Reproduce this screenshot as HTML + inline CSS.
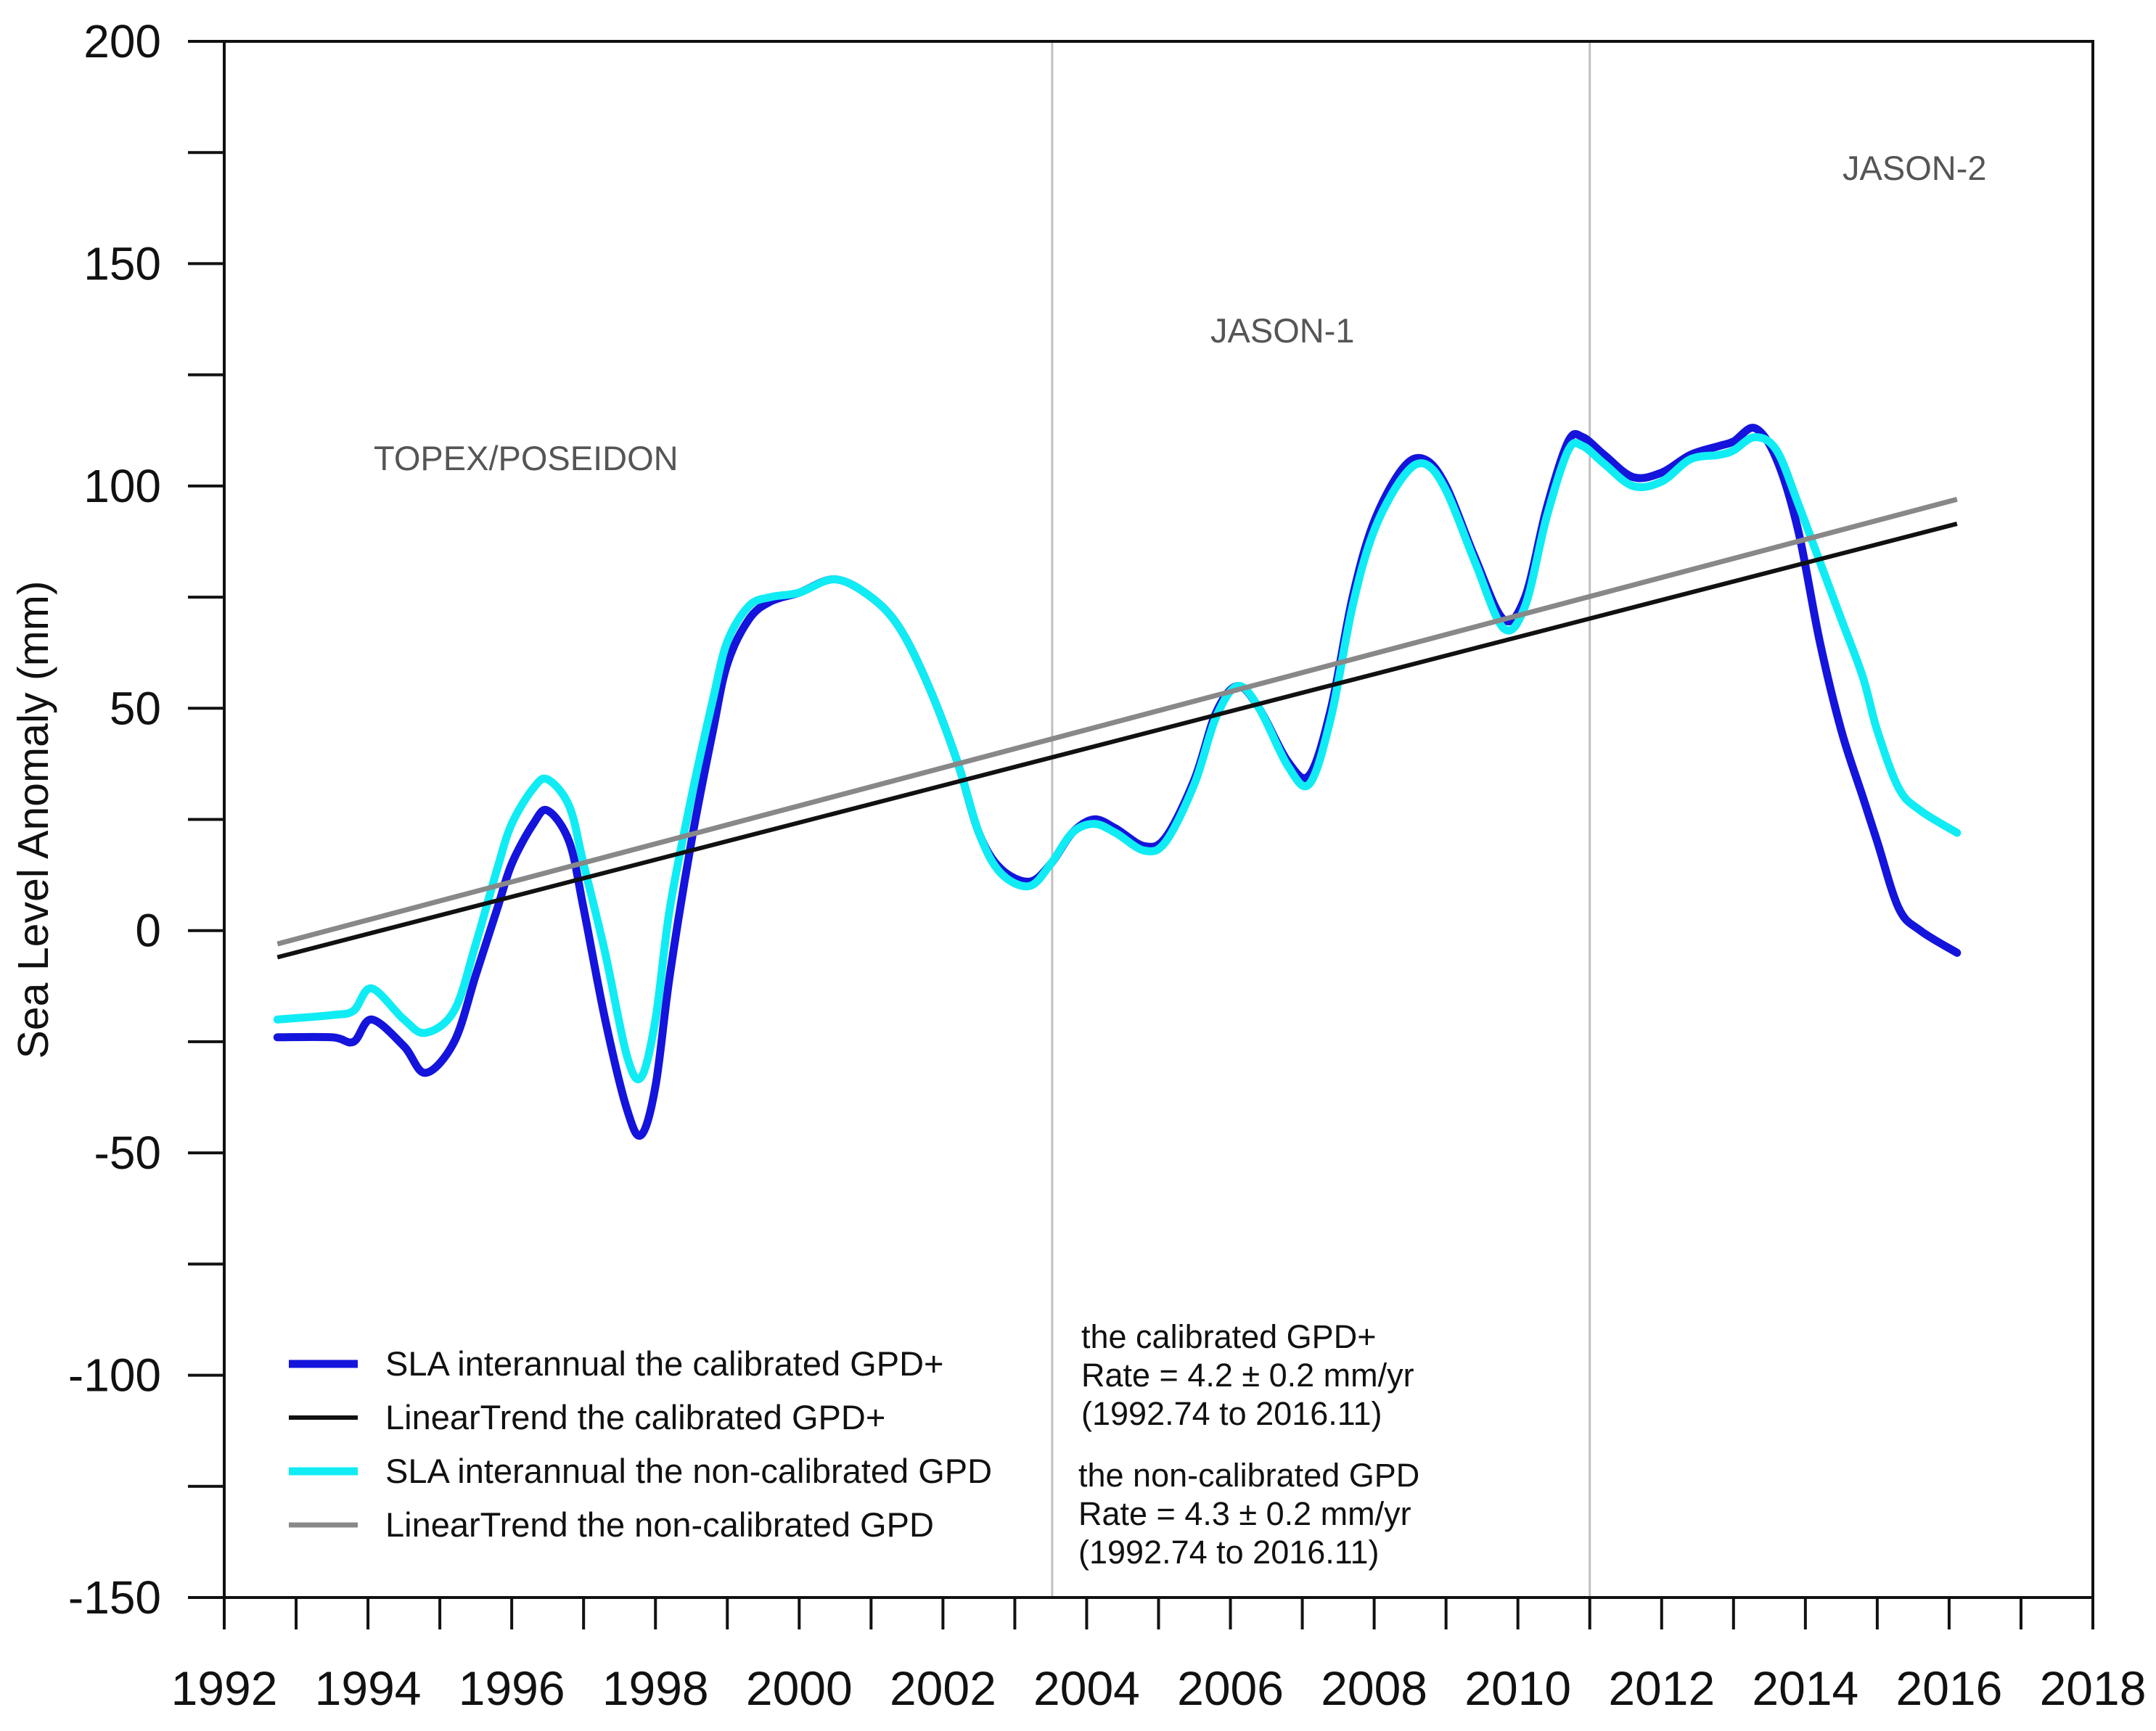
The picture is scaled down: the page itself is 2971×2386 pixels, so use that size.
<!DOCTYPE html>
<html><head><meta charset="utf-8"><style>
body{margin:0;background:#fff}
svg text{font-family:"Liberation Sans",Arial,sans-serif}
</style></head><body>
<svg id="chart" width="2971" height="2381" xmlns="http://www.w3.org/2000/svg">
<rect width="2971" height="2381" fill="#fff"/>
<g id="axes"></g>
<g id="marks"></g>
<g id="labels"></g>
</svg>
<script>
const years = [1992.74,1993.5,1993.8,1994.05,1994.5,1994.8,1995.2,1995.5,1995.8,1996.0,1996.3,1996.5,1996.8,1997.0,1997.3,1997.6,1997.8,1998.0,1998.2,1998.5,1998.8,1999.0,1999.3,1999.6,2000.0,2000.5,2001.0,2001.4,2001.8,2002.2,2002.5,2002.8,2003.2,2003.5,2003.8,2004.1,2004.4,2004.8,2005.1,2005.5,2005.8,2006.1,2006.4,2006.8,2007.1,2007.4,2007.7,2008.0,2008.4,2008.7,2009.0,2009.4,2009.8,2010.1,2010.4,2010.7,2010.9,2011.2,2011.6,2012.0,2012.4,2012.8,2013.0,2013.3,2013.6,2013.9,2014.2,2014.5,2014.8,2015.0,2015.3,2015.6,2016.11];
const slaCalibrated = [-24,-24,-25,-20,-26,-32,-25,-10,5,15,24,27,20,5,-20,-40,-46,-35,-10,20,45,60,70,74,76,79,75,68,55,38,22,14,11,15,22,25,23,19,21,34,49,55,50,38,35,50,75,92,104,106,100,84,70,75,95,110,111,107,102,103,107,109,110,113,106,90,65,45,30,20,5,0,-5];
const slaNonCalibrated = [-20,-19,-18,-13,-20,-23,-18,-3,14,24,32,34,28,15,-5,-28,-33,-20,5,30,52,65,73,75,76,79,75,68,55,38,22,13,10,15,22,24,22,18,20,33,48,55,50,37,33,48,73,90,102,105,99,83,68,73,93,108,109,105,100,101,106,107,108,111,108,96,83,70,57,45,32,27,22];
const trendCalibrated = [[1992.74,-6],[2016.11,91.5]];
const trendNonCalibrated = [[1992.74,-3],[2016.11,97]];
const yTicks = [-150,-100,-50,0,50,100,150,200];
const xTickLabels = [1992,1994,1996,1998,2000,2002,2004,2006,2008,2010,2012,2014,2016,2018];
const missionYears = [2003.52,2011.0];

const L=309,R=2884,T=57,B=2202;
const X=v=>L+(v-1992)/(2018-1992)*(R-L);
const Y=v=>B-(v+150)/350*(B-T);
const NS='http://www.w3.org/2000/svg';
function mk(tag,parent,attrs){const e=document.createElementNS(NS,tag);for(const k in attrs)e.setAttribute(k,attrs[k]);parent.appendChild(e);return e;}
const axes=document.getElementById('axes'),marks=document.getElementById('marks'),labels=document.getElementById('labels');

missionYears.forEach(m=>{const e=mk('line',axes,{x1:X(m),x2:X(m),y1:T,y2:B,stroke:'#c0c0c0','stroke-width':3});

});

const frame=mk('rect',axes,{x:L,y:T,width:R-L,height:B-T,fill:'none',stroke:'#111','stroke-width':4});



for(let v=-150;v<=200;v+=25){const t=mk('line',axes,{x1:L-50,x2:L,y1:Y(v),y2:Y(v),stroke:'#111','stroke-width':4});

}
yTicks.forEach(v=>{const t=mk('text',labels,{x:222,y:Y(v)+22,'font-size':64,'text-anchor':'end',fill:'#111'});t.textContent=v;

});
for(let yr=1992;yr<=2018;yr++){const t=mk('line',axes,{x1:X(yr),x2:X(yr),y1:B,y2:B+44,stroke:'#111','stroke-width':4});

}
xTickLabels.forEach(v=>{const t=mk('text',labels,{x:X(v),y:2350,'font-size':66,'text-anchor':'middle',fill:'#111'});t.textContent=v;

});

function smooth(xs,ys){const p=xs.map((x,i)=>[X(x),Y(ys[i])]);let d='M'+p[0][0]+','+p[0][1];
for(let i=0;i<p.length-1;i++){const p0=p[Math.max(0,i-1)],p1=p[i],p2=p[i+1],p3=p[Math.min(p.length-1,i+2)];
d+=' C'+(p1[0]+(p2[0]-p0[0])/6)+','+(p1[1]+(p2[1]-p0[1])/6)+' '+(p2[0]-(p3[0]-p1[0])/6)+','+(p2[1]-(p3[1]-p1[1])/6)+' '+p2[0]+','+p2[1];}
return d;}

const lb=mk('path',marks,{d:smooth(years,slaCalibrated),fill:'none',stroke:'#1414dc','stroke-width':11,'stroke-linejoin':'round','stroke-linecap':'round'});


const lc=mk('path',marks,{d:smooth(years,slaNonCalibrated),fill:'none',stroke:'#10ecf4','stroke-width':11,'stroke-linejoin':'round','stroke-linecap':'round'});


const tg=mk('line',marks,{x1:X(trendNonCalibrated[0][0]),y1:Y(trendNonCalibrated[0][1]),x2:X(trendNonCalibrated[1][0]),y2:Y(trendNonCalibrated[1][1]),stroke:'#888','stroke-width':7});


const tb=mk('line',marks,{x1:X(trendCalibrated[0][0]),y1:Y(trendCalibrated[0][1]),x2:X(trendCalibrated[1][0]),y2:Y(trendCalibrated[1][1]),stroke:'#111','stroke-width':6});


</script>
<svg style="position:absolute;left:0;top:0" width="2971" height="2381" xmlns="http://www.w3.org/2000/svg">
<text transform="translate(66,1130) rotate(-90)" text-anchor="middle" font-size="59" fill="#111" font-family="Liberation Sans, sans-serif">Sea Level Anomaly (mm)</text>
<g font-family="Liberation Sans, sans-serif" font-size="47" fill="#555">
<text x="515" y="648">TOPEX/POSEIDON</text>
<text x="1668" y="472">JASON-1</text>
<text x="2539" y="248">JASON-2</text>
</g>
<g font-family="Liberation Sans, sans-serif" font-size="47" fill="#111">
<line x1="398" x2="493" y1="1880" y2="1880" stroke="#1414dc" stroke-width="11"/>
<text x="531" y="1896">SLA interannual the calibrated GPD+</text>
<line x1="398" x2="493" y1="1954" y2="1954" stroke="#111" stroke-width="6"/>
<text x="531" y="1970">LinearTrend the calibrated GPD+</text>
<line x1="398" x2="493" y1="2028" y2="2028" stroke="#10ecf4" stroke-width="11"/>
<text x="531" y="2044">SLA interannual the non-calibrated GPD</text>
<line x1="398" x2="493" y1="2102" y2="2102" stroke="#888" stroke-width="7"/>
<text x="531" y="2118">LinearTrend the non-calibrated GPD</text>
</g>
<g font-family="Liberation Sans, sans-serif" font-size="45" fill="#111">
<text x="1490" y="1858">the calibrated GPD+</text>
<text x="1490" y="1911">Rate = 4.2 ± 0.2 mm/yr</text>
<text x="1490" y="1964">(1992.74 to 2016.11)</text>
<text x="1486" y="2049">the non-calibrated GPD</text>
<text x="1486" y="2102">Rate = 4.3 ± 0.2 mm/yr</text>
<text x="1486" y="2155">(1992.74 to 2016.11)</text>
</g>
</svg>
</body></html>
